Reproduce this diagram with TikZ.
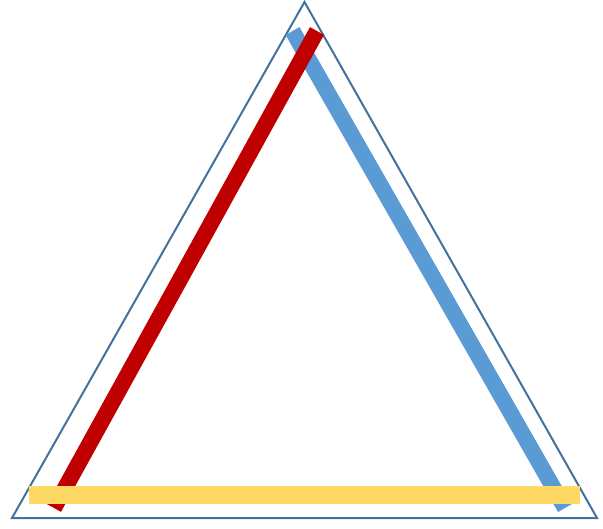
\documentclass[tikz,border=0pt]{standalone}
\usepackage[dvipsnames,svgnames]{xcolor}
\usepackage{tikz}
\definecolor{edgeblue}{HTML}{41719C}
\definecolor{sideblue}{HTML}{5B9BD5}
\definecolor{sidered}{HTML}{C00000}
\definecolor{sideyellow}{HTML}{FFD966}
\tikzset{
    band/.style={line width=16pt, line cap=butt}
}

\begin{document}
\begin{tikzpicture}[x=1pt,y=-1pt]
        \useasboundingbox (0,0) rectangle (603,529);
        % Corners of the triangle
        \coordinate (top) at (304.5,2);
        \coordinate (left) at (12,518);
        \coordinate (right) at (597,518);
    
        % Draw the triangle
        \draw[edgeblue, line width=2pt, line join=miter] (top) -- (left) -- (right) -- cycle;
    
        % Draw the three sides
        \draw[band, sideblue] (292.5,31) -- (565,508);
        \draw[band, sidered] (317,31) -- (54,508);
        \draw[band, sideyellow, line width=18pt] (29,495) -- (580,495);
    \end{tikzpicture}
\end{document}
